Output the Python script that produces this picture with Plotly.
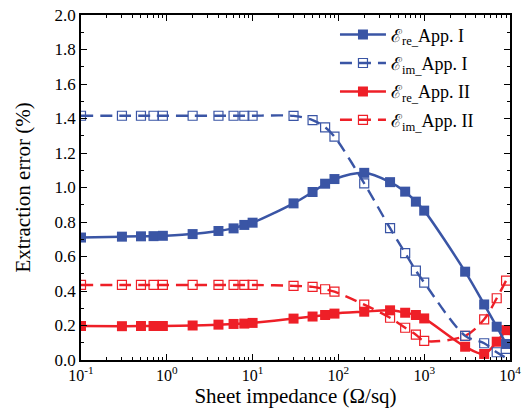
import plotly.graph_objects as go

# Sheet impedance (Ohm/sq)
sheet_impedance = [0.1, 0.3, 0.5, 0.7, 0.9, 2, 4, 6, 8, 10, 30, 50, 70, 90,
                   200, 400, 600, 800, 1000, 3000, 5000, 7000, 9000]

# Extraction errors (%)
err_re_app1 = [0.710, 0.715, 0.717, 0.718, 0.720, 0.730, 0.748, 0.763, 0.783, 0.796,
               0.908, 0.974, 1.022, 1.049, 1.085, 1.031, 0.976, 0.918, 0.866,
               0.512, 0.322, 0.193, 0.093]
err_im_app1 = [1.416, 1.416, 1.416, 1.416, 1.416, 1.416, 1.416, 1.416, 1.416, 1.416,
               1.415, 1.391, 1.349, 1.295, 1.024, 0.764, 0.620, 0.518, 0.449,
               0.140, 0.097, 0.045, 0.012]
err_re_app2 = [0.197, 0.196, 0.197, 0.197, 0.197, 0.200, 0.205, 0.209, 0.211, 0.215,
               0.240, 0.252, 0.261, 0.269, 0.280, 0.288, 0.274, 0.261, 0.241,
               0.077, 0.035, 0.106, 0.173]
err_im_app2 = [0.435, 0.435, 0.435, 0.435, 0.435, 0.435, 0.435, 0.435, 0.435, 0.435,
               0.430, 0.424, 0.410, 0.396, 0.321, 0.245, 0.187, 0.147, 0.111,
               0.140, 0.236, 0.358, 0.460]

series_names = ["ℰ<sub>re_</sub>App. I", "ℰ<sub>im_</sub>App. I",
                "ℰ<sub>re_</sub>App. II", "ℰ<sub>im_</sub>App. II"]

x_tick_vals = [0.1, 1, 10, 100, 1000, 10000]
x_tick_text = ["10<sup>-1</sup>", "10<sup>0</sup>", "10<sup>1</sup>",
               "10<sup>2</sup>", "10<sup>3</sup>", "10<sup>4</sup>"]

BLUE = "#3a55a5"
RED = "#ee1f27"
FONT = "Liberation Serif"

fig = go.Figure()

def add(y, name, color, solid, rank):
    if solid:
        marker = dict(symbol="square", size=10, color=color,
                      line=dict(color=color, width=0))
        line = dict(color=color, width=2.5, shape="spline", smoothing=0.9)
    else:
        marker = dict(symbol="square-open", size=9, color=color,
                      line=dict(color=color, width=1.2))
        line = dict(color=color, width=2.4, dash="12px,7px", shape="spline", smoothing=0.9)
    fig.add_trace(go.Scatter(x=sheet_impedance, y=y, name=name, mode="lines+markers",
                             marker=marker, line=line, legendrank=rank,
                             legendgroup=name))

add(err_re_app2, series_names[2], RED, True, 3)
add(err_im_app2, series_names[3], RED, False, 4)
add(err_re_app1, series_names[0], BLUE, True, 1)
add(err_im_app1, series_names[1], BLUE, False, 2)

axis_common = dict(showline=True, linecolor="black", linewidth=1.6, mirror="ticks",
                   ticks="inside", tickcolor="black", tickwidth=1.4, ticklen=6,
                   showgrid=False, zeroline=False, automargin=False)

fig.update_xaxes(type="log", range=[-1, 4], tickmode="array",
                 tickvals=x_tick_vals, ticktext=x_tick_text,
                 tickfont=dict(family=FONT, size=16, color="black"),
                 minor=dict(ticks="inside", ticklen=3, tickwidth=1.2, tickcolor="black",
                            tickvals=[v * m for v in [0.1, 1, 10, 100, 1000]
                                      for m in range(2, 10)]),
                 title=dict(text="Sheet impedance (Ω/sq)",
                            font=dict(family=FONT, size=21, color="black"), standoff=4),
                 **axis_common)
fig.update_yaxes(range=[0, 2], dtick=0.2, tick0=0, tickformat=".1f",
                 tickfont=dict(family=FONT, size=17, color="black"),
                 minor=dict(ticks="inside", ticklen=3, tickwidth=1.2, tickcolor="black",
                            dtick=0.1),
                 title=dict(text="Extraction error (%)",
                            font=dict(family=FONT, size=21, color="black"), standoff=18),
                 **axis_common)

fig.update_layout(
    width=525, height=416,
    margin=dict(l=81, r=15, t=15, b=56, autoexpand=False),
    paper_bgcolor="white", plot_bgcolor="white",
    font=dict(family=FONT, size=17, color="black"),
    showlegend=True,
    legend=dict(x=0.592, y=0.996, xanchor="left", yanchor="top",
                bgcolor="rgba(0,0,0,0)", font=dict(family=FONT, size=18, color="black"),
                tracegroupgap=2, itemwidth=46),
)

fig.write_html("out.html", config={"displayModeBar": False},
               post_script="document.body.style.margin='0';document.body.style.overflow='hidden';")
